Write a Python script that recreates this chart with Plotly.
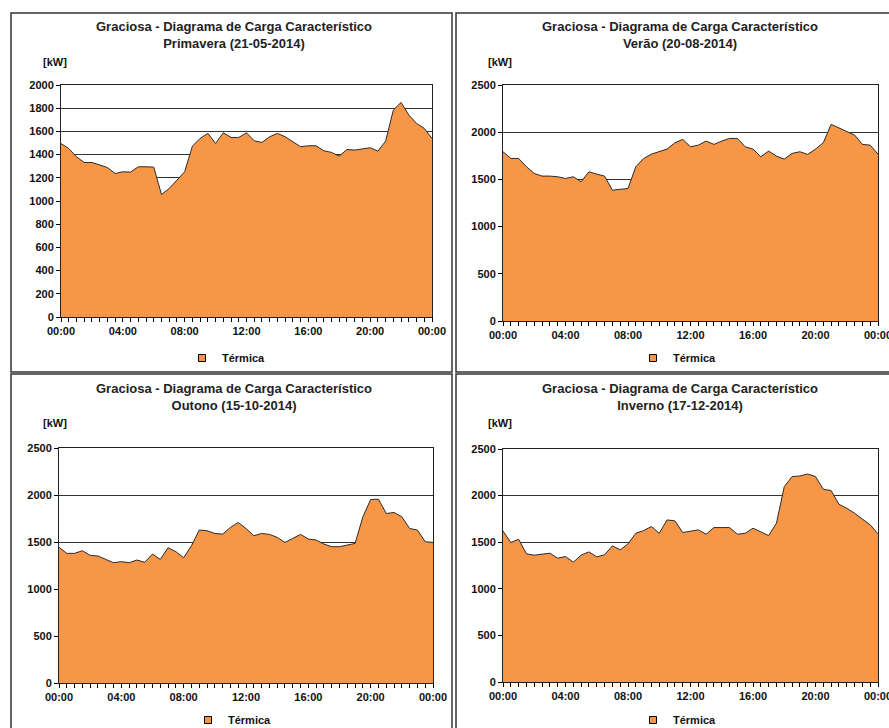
import plotly.graph_objects as go

W, H = 889, 728

# ---------------- data ----------------
hours = [i * 0.5 for i in range(49)]
tick_hours = [0, 4, 8, 12, 16, 20, 24]
tick_labels = ["00:00", "04:00", "08:00", "12:00", "16:00", "20:00", "00:00"]
series_name = "Térmica"

titles = [
    "Graciosa - Diagrama de Carga Característico<br>Primavera (21-05-2014)",
    "Graciosa - Diagrama de Carga Característico<br>Verão (20-08-2014)",
    "Graciosa - Diagrama de Carga Característico<br>Outono (15-10-2014)",
    "Graciosa - Diagrama de Carga Característico<br>Inverno (17-12-2014)",
]

primavera = [1495, 1453, 1381, 1332, 1332, 1309, 1289, 1237, 1252, 1249,
             1295, 1295, 1292, 1056, 1108, 1180, 1252, 1473, 1540, 1583,
             1496, 1588, 1548, 1548, 1588, 1519, 1505, 1554, 1583, 1554,
             1511, 1468, 1476, 1476, 1433, 1419, 1387, 1444, 1439, 1447,
             1459, 1430, 1516, 1784, 1850, 1741, 1669, 1626, 1540]

verao = [1793, 1722, 1722, 1634, 1563, 1535, 1535, 1528, 1510, 1528,
         1475, 1581, 1556, 1535, 1386, 1397, 1404, 1634, 1722, 1768,
         1793, 1821, 1888, 1924, 1846, 1863, 1906, 1871, 1906, 1934,
         1934, 1846, 1821, 1740, 1800, 1747, 1715, 1775, 1793, 1765,
         1821, 1888, 2083, 2047, 2012, 1970, 1871, 1863, 1768]

outono = [1443, 1379, 1379, 1407, 1358, 1351, 1315, 1280, 1291, 1280,
          1308, 1284, 1372, 1315, 1439, 1397, 1333, 1460, 1627, 1620,
          1591, 1584, 1655, 1708, 1644, 1566, 1591, 1581, 1549, 1496,
          1538, 1581, 1531, 1521, 1478, 1450, 1450, 1467, 1485, 1768,
          1952, 1955, 1803, 1814, 1768, 1644, 1627, 1503, 1496]

inverno = [1621, 1496, 1532, 1375, 1361, 1375, 1382, 1329, 1346, 1286,
           1361, 1396, 1343, 1364, 1461, 1418, 1482, 1596, 1625, 1668,
           1596, 1739, 1729, 1604, 1614, 1632, 1586, 1657, 1657, 1657,
           1586, 1596, 1650, 1614, 1571, 1704, 2096, 2204, 2211, 2232,
           2204, 2068, 2054, 1907, 1864, 1811, 1750, 1686, 1589]

y_max = [2000, 2500, 2500, 2500]
y_step = [200, 500, 500, 500]
series = [primavera, verao, outono, inverno]

# ---------------- layout helpers (pixel -> paper) ----------------
def px(x):
    return x / W

def py(y):
    return 1 - y / H

# plot areas in pixels: (left, right, top, bottom)
plot_px = [(61, 432, 85, 317), (503, 878, 85, 321),
           (59, 433, 448, 683), (503, 878, 449, 682)]
# panel boxes
box_px = [(11, 452, 13, 372), (456, 900, 13, 372),
          (11, 452, 374, 740), (456, 900, 374, 740)]
title_px = [(234.5, 35), (679.5, 35), (234.5, 397), (679.5, 397)]
kw_px = [(55, 62), (500, 62), (55, 423), (500, 423)]
legend_px = [(182, 358), (633, 358), (188, 720), (633, 720)]

ORANGE = "#F79646"
FONT = "Liberation Sans, Arial, sans-serif"
bold11 = dict(family=FONT, size=11, color="#111", weight="bold")

fig = go.Figure()
annotations = []
shapes = []
layout = dict(
    width=W, height=H, autosize=False,
    margin=dict(l=0, r=0, t=0, b=0, autoexpand=False),
    paper_bgcolor="white", plot_bgcolor="white",
    font=dict(family=FONT),
)

for i in range(4):
    n = "" if i == 0 else str(i + 1)
    xa, ya = "x" + n, "y" + n
    l, r, t, b = plot_px[i]
    fig.add_trace(go.Scatter(
        x=hours, y=series[i], mode="lines", fill="tozeroy",
        fillcolor=ORANGE, line=dict(color="#2a2a2a", width=1),
        xaxis=xa, yaxis=ya, showlegend=False, hoverinfo="x+y",
    ))
    leg = "legend" if i == 0 else "legend" + str(i + 1)
    fig.add_trace(go.Scatter(
        x=[None], y=[None], mode="markers", name=series_name,
        marker=dict(symbol="square", size=7, color=ORANGE,
                    line=dict(color="#000", width=1)),
        xaxis=xa, yaxis=ya, showlegend=True, legend=leg,
    ))
    lx, ly = legend_px[i]
    layout[leg] = dict(x=px(lx), y=py(ly), xanchor="left", yanchor="middle",
                       xref="container", yref="container",
                       font=bold11, bgcolor="rgba(0,0,0,0)",
                       itemwidth=30, tracegroupgap=0)
    layout["xaxis" + n] = dict(
        domain=[px(l), px(r)], anchor=ya, range=[0, 24], automargin=False,
        tickmode="array", tickvals=tick_hours, ticktext=tick_labels,
        ticklabeloverflow="allow",
        ticks="outside", ticklen=4, tickcolor="#000", tickwidth=1,
        minor=dict(dtick=0.5, tick0=0, ticks="outside", ticklen=4,
                   tickcolor="#000", showgrid=False),
        showgrid=False, zeroline=False,
        showline=True, linecolor="#222", linewidth=1, mirror=True,
        tickfont=bold11, fixedrange=True,
    )
    layout["yaxis" + n] = dict(
        domain=[py(b), py(t)], anchor=xa, range=[0, y_max[i]], automargin=False,
        dtick=y_step[i], tick0=0,
        ticks="outside", ticklen=4, tickcolor="#000", tickwidth=1,
        showgrid=True, gridcolor="#333", gridwidth=1, zeroline=False,
        showline=True, linecolor="#222", linewidth=1, mirror=True,
        tickfont=bold11, fixedrange=True,
    )
    tx, ty = title_px[i]
    annotations.append(dict(
        x=px(tx), y=py(ty), xref="paper", yref="paper", showarrow=False,
        text=titles[i], xanchor="center", yanchor="middle",
        font=dict(family=FONT, size=13, color="#222", weight="bold"),
    ))
    kx, ky = kw_px[i]
    annotations.append(dict(
        x=px(kx), y=py(ky), xref="paper", yref="paper", showarrow=False,
        text="[kW]", xanchor="center", yanchor="middle", font=bold11,
    ))
    bx0, bx1, by0, by1 = box_px[i]
    shapes.append(dict(
        type="rect", xref="paper", yref="paper",
        x0=px(bx0), x1=px(bx1), y0=py(by1), y1=py(by0),
        line=dict(color="#333", width=1.5), fillcolor="rgba(0,0,0,0)",
        layer="below",
    ))

layout["annotations"] = annotations
layout["shapes"] = shapes
fig.update_layout(**layout)

fig.write_html(
    "out.html",
    config={"displayModeBar": False},
    post_script="document.body.style.margin='0px';document.body.style.overflow='hidden';",
)
